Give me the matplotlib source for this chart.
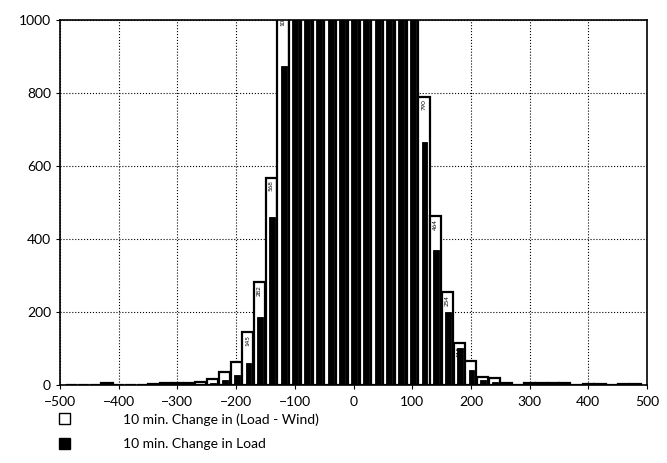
import matplotlib
matplotlib.use("Agg")
import matplotlib.pyplot as plt
import numpy as np
from matplotlib.patches import Patch

# bin centres (width 20)
centers = list(range(-480, 500, 20))

# 10 min. change in (Load - Wind): counts per bin (centre bins run off the top)
load_wind = [0, 0, 0, 5, 0, 0, 0, 2, 6, 6, 6, 9, 16, 35, 64, 145, 282, 568,
             1030, 1600, 2300, 3000, 3600, 4000, 4200, 4000, 3600, 3000, 2300,
             1500, 790, 464, 254, 115, 67, 22, 19, 5, 0, 5, 5, 5, 5, 0, 4, 4,
             0, 4, 4]

# 10 min. change in Load
load = [0, 0, 0, 0, 0, 0, 0, 0, 2, 2, 2, 4, 7, 14, 27, 62, 187, 460,
        875, 1700, 2600, 3400, 4100, 4600, 4800, 4600, 4100, 3400, 2600,
        1300, 665, 369, 200, 101, 41, 14, 8, 3, 0, 2, 2, 2, 2, 0, 2, 2,
        0, 2, 2]

labelled = [-180, -160, -140, -120, 120, 140, 160, 180]

plt.rcParams['font.family'] = ['Lato', 'DejaVu Sans']

fig = plt.figure(figsize=(6.67, 4.63), dpi=100)
ax = fig.add_axes([0.09, 0.168, 0.88, 0.789])

x = np.array(centers)
ax.bar(x, load_wind, width=19, color='white', edgecolor='black',
       linewidth=1.6, zorder=2)
ax.bar(x + 1, load, width=10, color='black', edgecolor='black',
       linewidth=0.6, zorder=3)

for c, v in zip(centers, load_wind):
    if c in labelled:
        ax.text(c, v - 8, str(v), rotation=90, ha='center', va='top',
                fontsize=4.5, color='black', zorder=4, clip_on=True)

ax.set_xlim(-500, 500)
ax.set_ylim(0, 1000)
ax.set_xticks(range(-500, 501, 100))
ax.set_yticks(range(0, 1001, 200))
ax.tick_params(axis='both', labelsize=10, length=3, width=0.8)
ax.tick_params(axis='x', pad=5)
ax.grid(True, color='black', linestyle=':', linewidth=0.8, zorder=0)
ax.set_axisbelow(True)
for s in ax.spines.values():
    s.set_linewidth(1.2)

handles = [Patch(facecolor='white', edgecolor='black', linewidth=1),
           Patch(facecolor='black', edgecolor='black')]
fig.legend(handles, ['10 min. Change in (Load - Wind)', '10 min. Change in Load'],
           loc='upper left', bbox_to_anchor=(0.08, 0.12), frameon=False,
           fontsize=10, handlelength=0.8, handleheight=0.8, handletextpad=3.8,
           labelspacing=0.9, borderaxespad=0)

fig.savefig('out.png', dpi=100)
